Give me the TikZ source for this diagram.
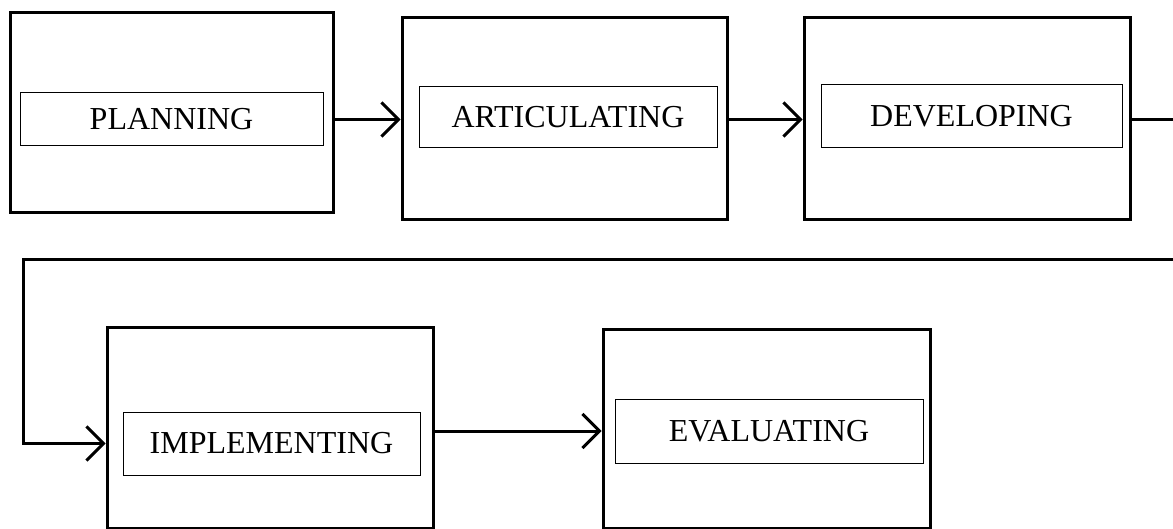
\documentclass[tikz,border=0pt]{standalone}
\usepackage{fontspec}
\setmainfont{Liberation Serif}
\usetikzlibrary{arrows.meta}

\begin{document}
\begin{tikzpicture}[x=1pt, y=-1pt,
     outer/.style={draw, line width=3pt, inner sep=0pt},
     inner/.style={draw, line width=1pt, fill=white, inner sep=0pt, font=\fontsize{32}{38}\selectfont},
     flow/.style={line width=3pt, -{Straight Barb[length=17pt, width=34pt]}}]
     \useasboundingbox (0,0) rectangle (1173,529);
     \node [outer, minimum width=323pt, minimum height=200pt] (b1) at (171.5,113) {};
     \node [outer, minimum width=325pt, minimum height=202pt] (b2) at (564.5,119) {};
     \node [outer, minimum width=326pt, minimum height=202pt] (b3) at (967,119) {};
     \node [outer, minimum width=326pt, minimum height=200pt] (b4) at (270,428) {};
     \node [outer, minimum width=327pt, minimum height=198pt] (b5) at (766.5,429) {};
     \node [inner, minimum width=303pt, minimum height=53pt] (i1) at (171.5,119.5) {PLANNING};
     \node [inner, minimum width=298pt, minimum height=61pt] (i2) at (568,117.5) {ARTICULATING};
     \node [inner, minimum width=301pt, minimum height=63pt] (i3) at (971.5,116.5) {DEVELOPING};
     \node [inner, minimum width=297pt, minimum height=63pt] (i4) at (271.5,443.5) {IMPLEMENTING};
     \node [inner, minimum width=308pt, minimum height=64pt] (i5) at (769,431) {EVALUATING};
     \coordinate (turnR) at (1176,260);
     \coordinate (turnL) at (23,260);
     \draw[flow] (b1.east |- i1) -- (b2.west |- i1);
     \draw[flow] (b2.east |- i1) -- (b3.west |- i1);
     \draw[flow] (b3.east |- i1) -| (turnR) -| (turnL) |- (b4.west |- i4);
     \draw[flow] (b4.east |- i5) -- (b5.west |- i5);
  \end{tikzpicture}
\end{document}
